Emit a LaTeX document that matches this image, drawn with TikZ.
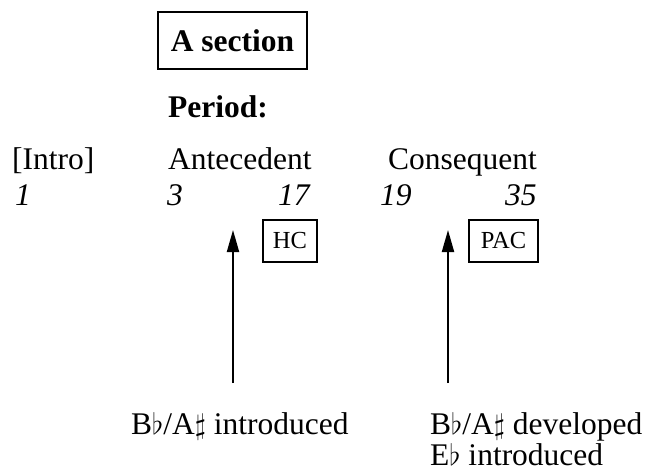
\documentclass[tikz,border=0pt]{standalone}
\usepackage{graphicx}
\usepackage{fontspec}
\setmainfont{Liberation Serif}
\usetikzlibrary{arrows.meta}

% accidentals sized to the capitals of the text font
\newcommand{\fl}{\resizebox*{!}{22pt}{$\flat$}}
\newcommand{\sh}{\resizebox*{!}{26pt}{$\sharp$}}

\begin{document}
\begin{tikzpicture}[x=1pt,y=-1pt,
  lbl/.style={anchor=base west,inner sep=0pt,font=\fontsize{31.5}{36}\selectfont},
  num/.style={lbl,font=\fontsize{31.5}{36}\selectfont\itshape},
  cad/.style={draw,line width=1.6pt,inner sep=0pt,minimum height=42pt,
              font=\fontsize{24.5}{28}\selectfont},
  up/.style={line width=2pt,-{Triangle[length=22pt,width=12pt]}}]
  \useasboundingbox (0,0) rectangle (655,474);

  % heading
  \node[draw,line width=2pt,inner sep=0pt,minimum width=149pt,minimum height=57pt,
        font=\fontsize{31.5}{36}\selectfont\bfseries] (sec) at (232.5,40.5) {A section};
  \node[lbl,font=\fontsize{31.5}{36}\selectfont\bfseries] (per) at (168,117) {Period:};

  % phrase labels
  \node[lbl] (intro) at (12,169) {[Intro]};
  \node[lbl] (ante)  at (168,169) {Antecedent};
  \node[lbl] (cons)  at (388,169) {Consequent};

  % measure numbers
  \node[num] (m1)  at (15,205)  {1};
  \node[num] (m3)  at (167,205) {3};
  \node[num] (m17) at (278,205) {17};
  \node[num] (m19) at (380,205) {19};
  \node[num] (m35) at (505,205) {35};

  % cadences
  \node[cad,minimum width=54pt] (hc)  at (290,241)   {HC};
  \node[cad,minimum width=69pt] (pac) at (503.5,241) {PAC};

  % events
  \node[lbl] (ev1)  at (131,434) {B\fl/A\sh{} introduced};
  \node[lbl] (ev2)  at (430,434) {B\fl/A\sh{} developed};
  \node[lbl] (ev2b) at (430,465) {E\fl{} introduced};

  \coordinate (a1) at (233,230);
  \coordinate (b1) at (233,383);
  \coordinate (a2) at (448,230);
  \coordinate (b2) at (448,383);
  \draw[up] (b1) -- (a1);
  \draw[up] (b2) -- (a2);
\end{tikzpicture}
\end{document}
